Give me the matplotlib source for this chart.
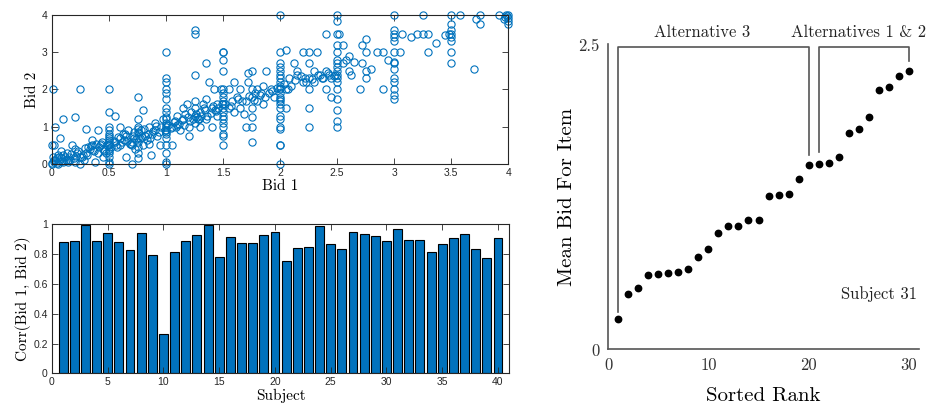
import numpy as np
import matplotlib
matplotlib.use('Agg')
import matplotlib.pyplot as plt

# --- datos: panel de dispersion (Bid 1 vs Bid 2) ---
bid1 = [0, 0, 0.02, 0.03, 0.05, 0.01, 0, 0.02, 0.03, 0.01, 0.07, 0.1, 0.2, 0.25,
        0.08, 0.1, 0.12, 0.15, 0.18, 0.2, 0.22, 0.25, 0.25, 0.28, 0.3, 0.3, 0.33,
        0.35, 0.35, 0.38, 0.4, 0.4, 0.42, 0.45, 0.45, 0.04, 0.06, 0.1, 0.13, 0.16,
        0.05, 0.08, 0.14, 0.2, 0.27, 0.32, 0.37, 0.43, 0.47,
        0.5, 0.5, 0.5, 0.5, 0.5, 0.5, 0.5, 0.5, 0.5, 0.5, 0.5, 0.5, 0.5, 0.5, 0.5,
        0.55, 0.55, 0.6, 0.6, 0.6, 0.62, 0.65, 0.65, 0.68, 0.7, 0.7, 0.72, 0.72,
        0.75, 0.75, 0.75, 0.75, 0.75, 0.75, 0.78, 0.8, 0.8, 0.82, 0.85, 0.85, 0.87,
        0.88, 0.9, 0.9, 0.92, 0.95, 0.97, 0.57, 0.63, 0.67, 0.7, 0.73, 0.77, 0.83,
        0.75, 0.75, 0.75, 0.75,
        1, 1, 1, 1, 1, 1, 1, 1, 1, 1, 1, 1, 1, 1, 1, 1, 1, 1, 1,
        1.05, 1.05, 1.1, 1.1, 1.12, 1.15, 1.15, 1.18, 1.2, 1.2, 1.22, 1.25, 1.25,
        1.25, 1.25, 1.25, 1.25, 1.25, 1.28, 1.3, 1.3, 1.32, 1.35, 1.35, 1.35, 1.38,
        1.4, 1.4, 1.42, 1.45, 1.45, 1.48, 1.08, 1.17, 1.27, 1.33, 1.43,
        1.5, 1.5, 1.5, 1.5, 1.5, 1.5, 1.5, 1.5, 1.5, 1.5, 1.5, 1.5, 1.5, 1.5, 1.5,
        1.5, 1.5, 1.5,
        1.55, 1.55, 1.58, 1.6, 1.6, 1.62, 1.65, 1.65, 1.68, 1.7, 1.7, 1.72, 1.72,
        1.75, 1.75, 1.75, 1.75, 1.75, 1.75, 1.75, 1.78, 1.8, 1.8, 1.82, 1.85, 1.85,
        1.88, 1.9, 1.92, 1.95,
        2, 2, 2, 2, 2, 2, 2, 2, 2, 2, 2, 2, 2, 2, 2, 2, 2, 2, 2, 2, 2, 2,
        2.05, 2.05, 2.05, 2.08, 2.1, 2.12, 2.15, 2.15, 2.2, 2.2, 2.22, 2.25, 2.25,
        2.25, 2.25, 2.25, 2.25, 2.3, 2.3, 2.32, 2.35, 2.38, 2.4, 2.4, 2.4, 2.42,
        2.45, 2.45, 2.48,
        2.5, 2.5, 2.5, 2.5, 2.5, 2.5, 2.5, 2.5, 2.5, 2.5, 2.5, 2.5, 2.5, 2.5, 2.5,
        2.5, 2.5,
        2.52, 2.55, 2.55, 2.58, 2.6, 2.6, 2.62, 2.65, 2.7, 2.72, 2.72, 2.75, 2.75,
        2.75, 2.75, 2.8, 2.85, 2.9, 2.9, 2.95,
        3, 3, 3, 3, 3, 3, 3, 3, 3, 3, 3, 3, 3, 3,
        3.05, 3.07, 3.15, 3.2, 3.25, 3.25, 3.3, 3.3, 3.37, 3.45, 3.48,
        3.5, 3.5, 3.5, 3.5, 3.5, 3.5, 3.5, 3.5,
        3.58, 3.7, 3.72, 3.75, 3.75, 3.92, 3.96, 3.98, 4, 4, 4, 3.97, 4, 3.99,
        # zona densa (diagonal baja)
        0.02, 0.04, 0.06, 0.09, 0.11, 0.14, 0.17, 0.19, 0.21, 0.23, 0.26, 0.29,
        0.31, 0.34, 0.36, 0.39, 0.41, 0.44, 0.46, 0.48, 0.52, 0.54, 0.56, 0.58,
        0.61, 0.64, 0.66, 0.69, 0.71, 0.74, 0.76, 0.79, 0.81, 0.84, 0.86, 0.89,
        0.91, 0.94, 0.96, 0.99, 1.02, 1.04, 1.07, 1.09, 1.11, 1.14, 1.16, 1.19,
        1.21, 1.24, 1.26, 1.29, 1.31, 1.34, 1.36, 1.39, 1.41, 1.44, 1.46, 1.49,
        1.52, 1.57, 1.63, 1.67, 1.73, 1.77, 1.83, 1.87, 1.93, 1.97, 2.03, 2.07,
        2.13, 2.18, 2.23, 2.28, 2.33, 2.37, 2.43, 2.47, 0.5, 0.5, 1, 1, 2, 2]
bid2 = [0, 0.02, 0.05, 0.1, 0, 0.2, 0.5, 0.5, 1.0, 2.0, 0.7, 1.2, 1.25, 2.0,
        0.15, 0.25, 0.1, 0.2, 0.5, 0.05, 0.3, 0.2, 0, 0.1, 0.3, 0.95, 0.4,
        0.5, 0.65, 0.05, 0.3, 0.9, 0.5, 0.4, 0.2, 0.15, 0.08, 0.05, 0.3, 0.12,
        0.25, 0.35, 0.05, 0.4, 0.25, 0.45, 0.35, 0.55, 0.3,
        0, 0.05, 0.2, 0.3, 0.4, 0.5, 0.55, 0.6, 0.7, 0.75, 0.8, 0.9, 1.0, 1.4, 2.0,
        0.6, 1.3, 0.5, 0.7, 1.0, 0.8, 0.75, 0.2, 0.55, 0, 0.5, 0.7, 0.85,
        0.6, 1.0, 1.2, 1.8, 0.3, 0.15, 0.9, 0.5, 1.45, 0.75, 1.0, 0.55, 0.25,
        0.8, 1.1, 0.9, 0.75, 0.5, 1.2, 0.45, 0.65, 0.9, 0.6, 0.4, 0.7, 0.65,
        0.85, 0.95, 0.45, 0.7,
        0, 0.05, 0.3, 0.5, 0.7, 0.8, 0.9, 1.0, 1.1, 1.2, 1.25, 1.4, 1.5, 1.75, 1.9,
        2.0, 2.2, 2.3, 3.0,
        1.0, 0.5, 1.05, 1.3, 0.9, 1.2, 1.5, 1.6, 0.75, 1.0, 1.4, 1.1, 1.3,
        1.5, 1.7, 2.4, 3.5, 3.6, 1.2, 1.0, 1.4, 1.6, 1.2, 1.75, 2.7, 2.2,
        1.0, 1.5, 2.0, 1.3, 1.6, 2.0, 1.15, 1.35, 1.25, 1.5, 1.45,
        0.5, 0.75, 0.8, 1.0, 1.1, 1.2, 1.3, 1.4, 1.5, 1.6, 1.7, 1.8, 1.9, 2.0, 2.5,
        2.8, 3.0, 3.02,
        1.5, 2.0, 1.7, 2.2, 1.4, 1.8, 1.5, 2.0, 1.35, 1.0, 1.7, 2.2, 2.45,
        0.6, 1.0, 1.25, 1.5, 1.8, 2.0, 2.5, 1.9, 2.0, 1.7, 1.85, 1.6, 2.1,
        2.5, 1.9, 2.0, 1.8,
        0, 0.5, 1.0, 1.2, 1.3, 1.5, 1.6, 1.7, 1.8, 1.9, 2.0, 2.1, 2.2, 2.3, 2.4,
        2.5, 2.6, 2.7, 3.0, 4.0, 0.95, 0.52,
        1.5, 3.05, 2.0, 2.3, 2.1, 2.7, 2.5, 2.4, 2.2, 3.0, 2.3, 1.0, 1.5,
        2.0, 2.3, 2.7, 3.0, 2.2, 2.5, 3.0, 2.4, 2.3, 2.0, 2.5, 3.5, 2.45,
        1.8, 2.3, 2.4,
        1.0, 1.15, 1.45, 1.75, 2.0, 2.3, 2.4, 2.5, 2.6, 2.7, 2.8, 3.0, 3.2, 3.5,
        3.85, 4.0, 2.2,
        3.5, 2.7, 3.2, 2.8, 2.5, 2.9, 2.4, 2.75, 2.0, 2.7, 3.2, 2.3, 2.5,
        3.0, 3.35, 2.55, 3.0, 2.0, 3.0, 2.8,
        1.75, 1.85, 2.0, 2.2, 2.3, 2.55, 2.7, 2.75, 3.0, 3.3, 3.5, 3.6, 4.0, 3.4,
        3.0, 3.5, 3.4, 3.5, 3.5, 4.0, 3.0, 3.5, 3.25, 3.45, 3.5,
        2.7, 3.0, 3.3, 3.5, 3.6, 3.75, 4.0, 3.4,
        4.0, 2.55, 3.9, 3.75, 4.0, 4.0, 3.9, 4.0, 4.0, 3.85, 3.75, 3.95, 3.92, 3.98,
        0.1, 0.03, 0.18, 0.08, 0.2, 0.12, 0.28, 0.15, 0.22, 0.35, 0.18, 0.42,
        0.25, 0.48, 0.38, 0.55, 0.45, 0.6, 0.36, 0.52, 0.45, 0.62, 0.5, 0.72,
        0.58, 0.8, 0.62, 0.55, 0.75, 0.68, 0.82, 0.72, 0.95, 0.8, 0.7, 0.88,
        1.02, 0.85, 0.98, 0.92, 1.05, 0.97, 1.12, 1.0, 1.08, 1.18, 1.05, 1.25,
        1.15, 1.22, 1.35, 1.2, 1.28, 1.45, 1.3, 1.38, 1.55, 1.42, 1.5, 1.62,
        1.6, 1.55, 1.75, 1.68, 1.82, 1.72, 1.9, 1.8, 1.95, 2.05, 2.15, 2.0,
        2.25, 2.35, 2.2, 2.28, 2.38, 2.32, 2.4, 2.36, 0.65, 0.35, 0.85, 1.05, 2.05, 1.75]

# --- datos: correlacion por sujeto ---
sujetos = np.arange(1, 41)
corr = [0.879, 0.886, 0.998, 0.886, 0.940, 0.879, 0.826, 0.944, 0.792, 0.262,
        0.812, 0.886, 0.931, 0.993, 0.779, 0.913, 0.877, 0.877, 0.931, 0.946,
        0.756, 0.839, 0.850, 0.987, 0.868, 0.837, 0.949, 0.933, 0.924, 0.886,
        0.966, 0.895, 0.893, 0.814, 0.870, 0.906, 0.933, 0.832, 0.772, 0.906]

# --- datos: sujeto 31, puja media ordenada ---
rango = np.arange(1, 31)
puja_media = [0.249, 0.454, 0.505, 0.607, 0.615, 0.628, 0.637, 0.658, 0.757, 0.822,
              0.954, 1.014, 1.011, 1.057, 1.060, 1.260, 1.268, 1.273, 1.396, 1.514,
              1.516, 1.530, 1.579, 1.773, 1.803, 1.902, 2.128, 2.148, 2.238, 2.281]

AZUL = '#0072BD'
SERIF = ['cmr10', 'DejaVu Serif']
plt.rcParams['font.family'] = ['Liberation Sans', 'DejaVu Sans']
plt.rcParams['axes.unicode_minus'] = False

fig = plt.figure(figsize=(9.33, 4.11), dpi=100)


def estilo_matlab(ax):
    for s in ax.spines.values():
        s.set_color('#262626')
        s.set_linewidth(0.8)
    ax.tick_params(direction='in', top=True, right=True, length=4, width=0.6,
                   labelsize=7.5, colors='#262626', pad=3)


# Dispersion
ax1 = fig.add_axes([0.0557, 0.601, 0.489, 0.3625])
ax1.plot(bid1, bid2, 'o', mfc='none', mec=AZUL, ms=5.2, mew=0.8, clip_on=False)
ax1.set_xlim(0, 4)
ax1.set_ylim(0, 4)
ax1.set_xticks(np.arange(0, 4.01, 0.5))
ax1.set_xticklabels(['0', '0.5', '1', '1.5', '2', '2.5', '3', '3.5', '4'])
ax1.set_yticks([0, 1, 2, 3, 4])
estilo_matlab(ax1)
ax1.set_xlabel('Bid 1', family=SERIF, fontsize=11, labelpad=1)
ax1.set_ylabel('Bid 2', family=SERIF, fontsize=11, labelpad=2)

# Barras
ax2 = fig.add_axes([0.0557, 0.0917, 0.49, 0.3625])
ax2.bar(sujetos, corr, width=0.8, color=AZUL, edgecolor='black', linewidth=0.8)
ax2.set_xlim(0, 41)
ax2.set_ylim(0, 1)
ax2.set_xticks(np.arange(0, 41, 5))
ax2.set_yticks(np.arange(0, 1.01, 0.2))
ax2.set_yticklabels(['0', '0.2', '0.4', '0.6', '0.8', '1'])
estilo_matlab(ax2)
ax2.set_xlabel('Subject', family=SERIF, fontsize=11, labelpad=1)
ax2.set_ylabel('Corr(Bid 1, Bid 2)', family=SERIF, fontsize=11, labelpad=2)

# Sujeto 31
ax3 = fig.add_axes([0.6517, 0.150, 0.3333, 0.742])
ax3.plot(rango, puja_media, 'o', color='black', ms=4.6, clip_on=False)
ax3.set_xlim(0, 31)
ax3.set_ylim(0, 2.5)
ax3.set_xticks([0, 10, 20, 30])
ax3.set_yticks([0, 2.5])
ax3.set_yticklabels(['0', '2.5'])
for s in ['top', 'right']:
    ax3.spines[s].set_visible(False)
for s in ['left', 'bottom']:
    ax3.spines[s].set_color('#555555')
    ax3.spines[s].set_linewidth(1.2)
ax3.tick_params(length=0, labelsize=12, colors='#333333', pad=6)
for lab in ax3.get_xticklabels() + ax3.get_yticklabels():
    lab.set_family(SERIF)
ax3.set_xlabel('Sorted Rank', family=SERIF, fontsize=15, labelpad=10)
ax3.set_ylabel('Mean Bid For Item', family=SERIF, fontsize=15, labelpad=2)

# corchetes
gris = '#555555'
ax3.plot([1, 1, 20, 20], [0.31, 2.475, 2.475, 1.59], color=gris, lw=1.2, clip_on=False)
ax3.plot([21, 21, 30, 30], [1.62, 2.475, 2.475, 2.36], color=gris, lw=1.2, clip_on=False)
ax3.text(9.4, 2.6, 'Alternative 3', family=SERIF, fontsize=12, ha='center', va='center',
         color='#222222')
ax3.text(25.0, 2.6, 'Alternatives 1 & 2', family=SERIF, fontsize=12, ha='center',
         va='center', color='#222222', clip_on=False)
ax3.text(30.8, 0.45, 'Subject 31', family=SERIF, fontsize=12, ha='right', va='center',
         color='#222222')

fig.savefig('out.png', dpi=100)
